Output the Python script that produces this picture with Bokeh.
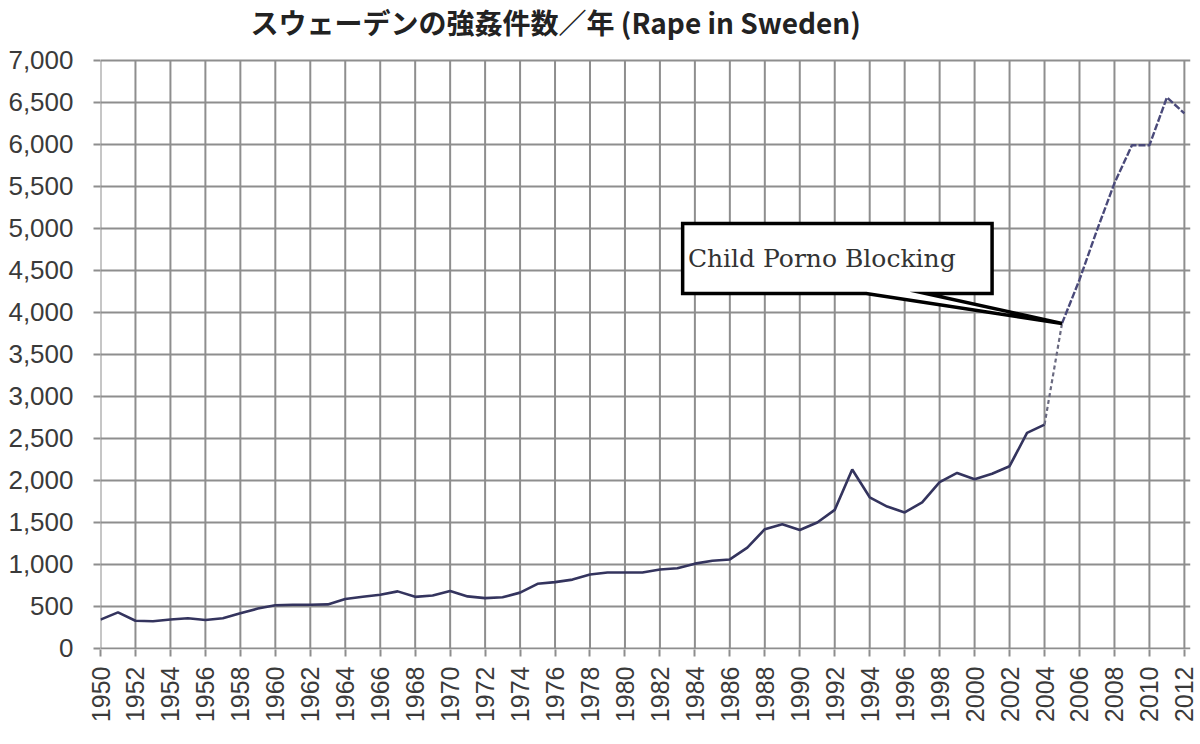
import numpy as np
from bokeh.plotting import figure
from bokeh.models import Range1d, FixedTicker, NumeralTickFormatter, ColumnDataSource, Label
from bokeh.embed import file_html
from bokeh.resources import INLINE
from bokeh.core.properties import value

# ---------------- data ----------------
TITLE = "スウェーデンの強姦件数／年 (Rape in Sweden)"

years_before = [1950, 1951, 1952, 1953, 1954, 1955, 1956, 1957, 1958, 1959,
                1960, 1961, 1962, 1963, 1964, 1965, 1966, 1967, 1968, 1969,
                1970, 1971, 1972, 1973, 1974, 1975, 1976, 1977, 1978, 1979,
                1980, 1981, 1982, 1983, 1984, 1985, 1986, 1987, 1988, 1989,
                1990, 1991, 1992, 1993, 1994, 1995, 1996, 1997, 1998, 1999,
                2000, 2001, 2002, 2003, 2004]
rapes_before = [344, 430, 330, 325, 345, 360, 340, 360, 420, 475,
                515, 520, 520, 525, 590, 615, 640, 680, 615, 630,
                685, 620, 600, 610, 665, 770, 790, 820, 880, 905,
                905, 905, 940, 955, 1010, 1045, 1060, 1200, 1420, 1480,
                1410, 1500, 1650, 2130, 1800, 1690, 1620, 1740, 1980, 2090,
                2015, 2080, 2170, 2566, 2665]

years_after = [2005, 2006, 2007, 2008, 2009, 2010, 2011, 2012]
rapes_after = [3870, 4390, 4980, 5540, 5990, 5990, 6560, 6370]

x_ticks = [1950, 1952, 1954, 1956, 1958, 1960, 1962, 1964, 1966, 1968,
           1970, 1972, 1974, 1976, 1978, 1980, 1982, 1984, 1986, 1988,
           1990, 1992, 1994, 1996, 1998, 2000, 2002, 2004, 2006, 2008,
           2010, 2012]
y_ticks = [0, 500, 1000, 1500, 2000, 2500, 3000, 3500, 4000, 4500,
           5000, 5500, 6000, 6500, 7000]

annot_text = "Child Porno Blocking"
# callout box (data units): left, right, bottom, top, pointer base left/right
box_left, box_right, box_bottom, box_top = 1983.3, 2001.0, 4226, 5060
ptr_base_left, ptr_base_right = 1993.8, 1997.2
text_x, text_y = 1983.6, 4640

# ---------------- figure ----------------
GRID = "#8e8e8e"
LINE = "#34345e"
FRAME_H = 649

# The plot frame reaches the top of the canvas; the grid stops at 7,000 and the
# title sits in the empty band above it.
p = figure(frame_width=1090, frame_height=FRAME_H,
           min_border_left=100, min_border_right=10,
           min_border_top=0, min_border_bottom=95,
           x_range=Range1d(1950, 2012.35), y_range=Range1d(-12, 7714),
           output_backend="svg", toolbar_location=None,
           background_fill_color="white", border_fill_color="white")
p.outline_line_color = None

p.add_layout(Label(x=150, y=FRAME_H - 21, x_units="screen", y_units="screen",
                   text=TITLE, text_font="Noto Sans CJK JP", text_font_size="28px",
                   text_font_style="bold", text_color="#222222",
                   text_baseline="middle", text_align="left"))

# vertical grid lines only between 0 and 7,000
p.xgrid.grid_line_color = None
p.segment(x0=x_ticks, y0=[y_ticks[0]] * len(x_ticks),
          x1=x_ticks, y1=[y_ticks[-1]] * len(x_ticks),
          line_color=GRID, line_width=2)
p.ygrid.ticker = FixedTicker(ticks=y_ticks)
p.ygrid.grid_line_color = GRID
p.ygrid.grid_line_width = 2

p.xaxis.ticker = FixedTicker(ticks=x_ticks)
p.yaxis.ticker = FixedTicker(ticks=y_ticks)
p.yaxis.formatter = NumeralTickFormatter(format="0,0")
p.xaxis.major_label_orientation = np.pi / 2
for ax in (p.xaxis, p.yaxis):
    ax.axis_line_color = None
    ax.major_tick_line_color = GRID
    ax.major_tick_line_width = 2
    ax.major_tick_in = 0
    ax.major_tick_out = 7
    ax.minor_tick_line_color = None
    ax.major_label_text_font = "Liberation Sans"
    ax.major_label_text_color = "#3a3a3a"
p.yaxis.major_label_text_font_size = "26px"
p.yaxis.major_label_standoff = 20
p.xaxis.major_label_text_font_size = "25px"
p.xaxis.major_label_standoff = 10

# ---------------- series ----------------
src_a = ColumnDataSource(dict(x=years_before, y=rapes_before))
src_b = ColumnDataSource(dict(x=years_after, y=rapes_after))
p.line("x", "y", source=src_a, line_color=LINE, line_width=2.6)
p.line([years_before[-1], years_after[0]], [rapes_before[-1], rapes_after[0]],
       line_color="#6a6a80", line_width=2.2, line_dash="4 3")
p.line("x", "y", source=src_b, line_color="#4a4a7a", line_width=2.4, line_dash="7 2")

# ---------------- callout ----------------
tip_x, tip_y = years_after[0], rapes_after[0]
p.patch([box_left, box_right, box_right, ptr_base_right, tip_x, ptr_base_left, box_left],
        [box_top, box_top, box_bottom, box_bottom, tip_y, box_bottom, box_bottom],
        fill_color="white", line_color="black", line_width=3.5, line_join="miter")
p.text(x=[text_x], y=[text_y], text=[annot_text],
       text_font=value("DejaVu Serif"), text_font_size="25px",
       text_color="#333333", text_baseline="middle", text_align="left")

open("out.html", "w").write(file_html(p, INLINE))
